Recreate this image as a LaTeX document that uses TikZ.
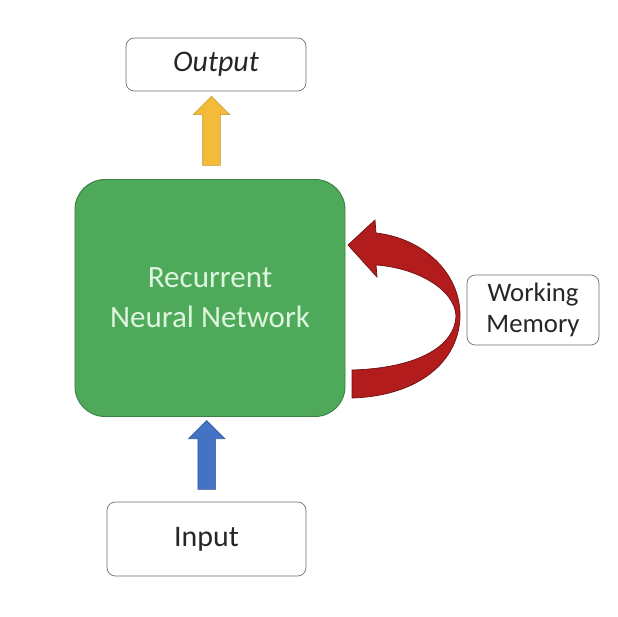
\documentclass[tikz,border=0pt]{standalone}
\usepackage{fontspec}
\setmainfont{Carlito}
\usepackage{tikz}
\usetikzlibrary{calc,positioning,shapes.arrows}
\definecolor{rnngreen}{RGB}{78,170,90}
\definecolor{rnnedge}{RGB}{58,130,68}
\definecolor{rnntext}{RGB}{222,245,222}
\definecolor{outyellow}{RGB}{244,186,58}
\definecolor{inblue}{RGB}{68,114,196}
\definecolor{memred}{RGB}{178,28,28}
\definecolor{boxedge}{RGB}{110,110,110}

\begin{document}
\begin{tikzpicture}[x=0.03cm,y=-0.03cm,
  box/.style={draw=boxedge,line width=0.6pt,rounded corners=0.25cm,fill=white,align=center,text=black!85,font=\fontsize{25.5}{34}\selectfont},
  blockarrow/.style={shape=single arrow,rotate=90,minimum width=0pt,inner xsep=0pt,inner ysep=0.255cm,single arrow head extend=0.285cm,minimum height=2.07cm,line width=0.5pt}]
\useasboundingbox (0,0) rectangle (618,616);
\node[box,minimum width=5.4cm,minimum height=1.59cm,font=\fontsize{25.5}{34}\selectfont\itshape] (output) at (216,64.5) {Output};
\node[draw=rnnedge,line width=0.8pt,fill=rnngreen,rounded corners=0.9cm,minimum width=8.1cm,minimum height=7.11cm,align=center,text=rnntext,font=\fontsize{26.5}{34}\selectfont] (rnn) at (210,298) {Recurrent\\Neural Network};
\node[box,minimum width=3.96cm,minimum height=2.1cm,font=\fontsize{22.8}{26.5}\selectfont] (memory) at (533,310) {Working\\Memory};
\node[box,minimum width=5.97cm,minimum height=2.22cm] (input) at (206.5,539) {Input};
% block arrows
\node[blockarrow,draw=outyellow!80!black,fill=outyellow] (up) at ($(rnn.north)!0.5!(output.south)+(-1.5,0)$) {};
\node[blockarrow,draw=inblue!80!black,fill=inblue] (in) at ($(input.north)!0.5!(rnn.south)+(-1.5,0)$) {};
% working memory loop
\draw[draw=memred!60!black,fill=memred,line width=0.6pt]
  (352,398) .. controls (420,396) and (460,360) .. (460,315)
  .. controls (460,272) and (422,238) .. (376,233)
  -- (375,220) -- (348,245) -- (377,277) -- (376,265)
  .. controls (418,268) and (455,290) .. (456,316)
  .. controls (455,345) and (420,368) .. (352,370) -- cycle;
\end{tikzpicture}
\end{document}
